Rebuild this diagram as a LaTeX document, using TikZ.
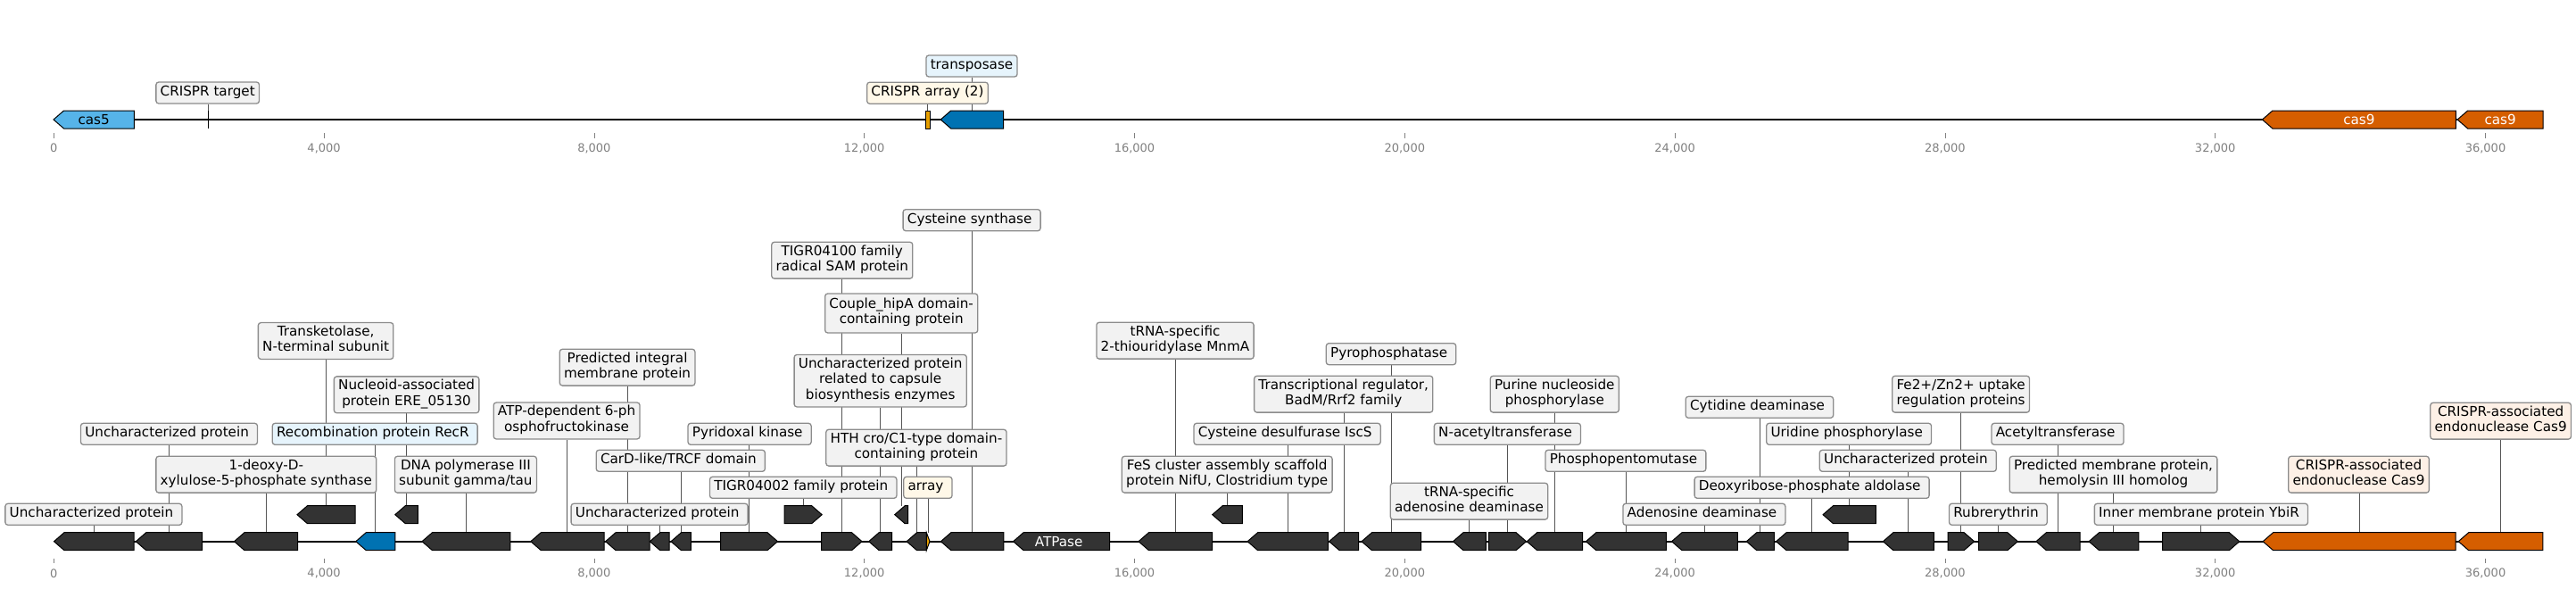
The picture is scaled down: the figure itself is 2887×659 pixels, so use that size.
\documentclass[tikz,border=0pt]{standalone}
\usepackage{fontspec}
\setmainfont{DejaVu Sans}
\usetikzlibrary{calc}
\pgfdeclarelayer{background}
\pgfsetlayers{background,main}
\definecolor{genedark}{HTML}{333333}
\definecolor{geneblue}{HTML}{0072B2}
\definecolor{genesky}{HTML}{56B4E9}
\definecolor{geneorange}{HTML}{D55E00}
\definecolor{arrayorange}{HTML}{E69F00}
\definecolor{boxfill}{HTML}{F2F2F2}
\definecolor{boxedge}{HTML}{8C8C8C}
\definecolor{bluefill}{HTML}{E6F4FC}
\definecolor{creamfill}{HTML}{FFF8E8}
\definecolor{peachfill}{HTML}{FDF0E6}
\definecolor{conncol}{HTML}{555555}
\definecolor{tickgray}{HTML}{808080}
\newcommand\tsp{\kern4.8pt}
\newcommand\geneL[5]{%
  \draw[gene,fill=#5] (#2,#4) -- ({#2+min(11.5,#3-#2)},{#4-10}) -- (#3,{#4-10}) -- (#3,{#4+10}) -- ({#2+min(11.5,#3-#2)},{#4+10}) -- cycle;
  \coordinate (#1) at ({(#2+#3)/2},{#4-10});
  \coordinate (#1c) at ({(#2+#3)/2},#4);}
\newcommand\geneR[5]{%
  \draw[gene,fill=#5] (#2,{#4-10}) -- ({#3-min(11.5,#3-#2)},{#4-10}) -- (#3,#4) -- ({#3-min(11.5,#3-#2)},{#4+10}) -- (#2,{#4+10}) -- cycle;
  \coordinate (#1) at ({(#2+#3)/2},{#4-10});
  \coordinate (#1c) at ({(#2+#3)/2},#4);}
\tikzset{
  gene/.style={draw=black, line width=1pt, line join=miter},
  lbl/.style={draw=boxedge, fill=boxfill, rounded corners=3pt, line width=1.3pt,
    inner xsep=4.8pt, inner ysep=3.2pt, align=center,
    font=\fontsize{15.2}{17.6}\selectfont,
    execute at begin node=\strut, execute at end node=\strut},
  bluebox/.style={lbl, fill=bluefill},
  creambox/.style={lbl, fill=creamfill},
  peachbox/.style={lbl, fill=peachfill},
  conn/.style={draw=conncol, line width=1pt},
  mainline/.style={draw=black, line width=2pt},
  tickline/.style={draw=tickgray, line width=0.8pt},
  ticklabel/.style={text=tickgray, font=\fontsize{13}{15}\selectfont, inner sep=0pt},
  genetext/.style={font=\fontsize{15.2}{17.6}\selectfont, inner sep=0pt},
}
\begin{document}
\begin{tikzpicture}[x=1pt,y=-1pt]
\useasboundingbox (0,0) rectangle (2887,659);

% ---------------- top track ----------------
\geneL{tcas5}{60}{150.3}{134}{genesky}
\node[genetext] (lcas5) at (tcas5c) {cas5};
\draw[line width=1.6pt] (233.3,124) -- (233.3,144.3);
\coordinate (ttgt) at (233.3,124);
\draw[gene,fill=arrayorange] (1037.3,124) rectangle (1042.3,144.3);
\coordinate (tarr) at (1039.8,124);
\geneL{ttrn}{1054.2}{1124.5}{134}{geneblue}
\geneL{tcasA}{2535.4}{2752.3}{134}{geneorange}
\geneL{tcasB}{2754.1}{2850.1}{134}{geneorange}
\node[genetext,text=white] (lcasA) at (tcasAc) {cas9};
\node[genetext,text=white] (lcasB) at (tcasBc) {cas9};

\node[lbl] (t1) at (232.7,104) {CRISPR target};
\node[creambox] (t2) at (1039.5,104.2) {CRISPR array (2)};
\node[bluebox] (t3) at (1089,74) {transposase};

\foreach \b/\t [count=\i] in {0/0,4/{4,000},8/{8,000},12/{12,000},16/{16,000},20/{20,000},24/{24,000},28/{28,000},32/{32,000},36/{36,000}}{
  \draw[tickline] ({60.3+75.7*\b},149.3) -- ({60.3+75.7*\b},154.5);
  \node[ticklabel] (tt\i) at ({60.3+75.7*\b},166) {\t};
  \draw[tickline] ({60.3+75.7*\b},625.7) -- ({60.3+75.7*\b},630.5);
  \node[ticklabel] (bt\i) at ({60.3+75.7*\b},642.3) {\t};
}

% ---------------- bottom track ----------------
\geneL{g1}{60.5}{150}{606.7}{genedark}
\geneL{g2}{152.3}{226.6}{606.7}{genedark}
\geneL{g3}{262.5}{333.7}{606.7}{genedark}
\geneL{g4}{333}{398}{576.7}{genedark}
\geneL{g5}{398.8}{442.8}{606.7}{geneblue}
\geneL{g6}{442.8}{468.4}{576.7}{genedark}
\geneL{g7}{473}{571.8}{606.7}{genedark}
\geneL{g8}{594.8}{677}{606.7}{genedark}
\geneL{g9}{678.6}{728}{606.7}{genedark}
\geneL{g10}{728.3}{750.2}{606.7}{genedark}
\geneL{g11}{752}{774.3}{606.7}{genedark}
\geneR{g12}{807.6}{871.5}{606.7}{genedark}
\geneR{g13}{879.1}{921.2}{576.7}{genedark}
\geneR{g14}{920.5}{966}{606.7}{genedark}
\geneL{g15}{973.7}{999.7}{606.7}{genedark}
\geneL{g16}{1002.7}{1017.7}{576.7}{genedark}
\geneL{g17}{1016.1}{1038.3}{606.7}{genedark}
\geneR{g18}{1038.3}{1042}{606.7}{arrayorange}
\geneL{g19}{1054.4}{1124.8}{606.7}{genedark}
\geneL{gatp}{1135.6}{1243.5}{606.7}{genedark}
\node[genetext,text=white] (latp) at ($(gatpc)+(-3,0)$) {ATPase};
\geneL{g20}{1276}{1358.7}{606.7}{genedark}
\geneL{g21}{1358.7}{1392.4}{576.7}{genedark}
\geneL{g22}{1398.1}{1488.4}{606.7}{genedark}
\geneL{g23}{1489.6}{1522.5}{606.7}{genedark}
\geneL{g24}{1526}{1592.5}{606.7}{genedark}
\geneL{g25}{1628.5}{1665.3}{606.7}{genedark}
\geneR{g26}{1668.5}{1710.5}{606.7}{genedark}
\geneL{g27}{1711.2}{1773.6}{606.7}{genedark}
\geneL{g28}{1777.4}{1867.4}{606.7}{genedark}
\geneL{g29}{1873.5}{1947.4}{606.7}{genedark}
\geneL{g30}{1957.3}{1988.3}{606.7}{genedark}
\geneL{g31}{1990.6}{2071}{606.7}{genedark}
\geneL{g32}{2043}{2102.4}{576.7}{genedark}
\geneL{g33}{2110.4}{2167.4}{606.7}{genedark}
\geneR{g34}{2183.1}{2212.6}{606.7}{genedark}
\geneR{g35}{2217.5}{2261.3}{606.7}{genedark}
\geneL{g36}{2281.9}{2331}{606.7}{genedark}
\geneL{g37}{2341.1}{2396.8}{606.7}{genedark}
\geneR{g38}{2423.5}{2509.8}{606.7}{genedark}
\geneL{g39}{2536.1}{2752.1}{606.7}{geneorange}
\geneL{g40}{2755.2}{2849.9}{606.7}{geneorange}

\node[lbl] (b1) at (104.9,576.3) {Uncharacterized protein\tsp};
\node[lbl] (b2) at (189.5,486.3) {Uncharacterized protein\tsp};
\node[lbl] (b3) at (298.3,531.7) {1-deoxy-D-\\xylulose-5-phosphate synthase};
\node[lbl] (b4) at (365.1,382) {Transketolase,\\N-terminal subunit};
\node[bluebox] (b5) at (420.2,486.3) {Recombination protein RecR\tsp};
\node[lbl] (b6) at (455.6,442.3) {Nucleoid-associated\\protein ERE\_05130};
\node[lbl] (b7) at (521.9,531.7) {DNA polymerase III\\subunit gamma/tau};
\node[lbl] (b8) at (635.1,471.5) {ATP-dependent 6-ph\\osphofructokinase};
\node[lbl] (b9) at (703.1,411.7) {Predicted integral\\membrane protein};
\node[lbl] (b10) at (739.1,576.3) {Uncharacterized protein\tsp};
\node[lbl] (b11) at (762.8,516.3) {CarD-like/TRCF domain\tsp};
\node[lbl] (b12) at (840.1,486.3) {Pyridoxal kinase\tsp};
\node[lbl] (b13) at (900.2,546.3) {TIGR04002 family protein\tsp};
\node[lbl] (b14) at (943.8,291.7) {TIGR04100 family\\radical SAM protein};
\node[lbl] (b15) at (986.7,426.7) {Uncharacterized protein\\related to capsule\\biosynthesis enzymes};
\node[lbl,minimum height=44pt] (b16) at (1010.2,351) {Couple\_hipA domain-\\containing protein};
\node[lbl] (b17) at (1026.9,501.7) {HTH cro/C1-type domain-\\containing protein};
\node[creambox] (b18) at (1039.9,546.3) {array\tsp};
\node[lbl] (b19) at (1089.1,246.7) {Cysteine synthase\tsp};
\node[lbl] (b20) at (1317,381.7) {tRNA-specific\\2-thiouridylase MnmA};
\node[lbl] (b21) at (1375.2,531.7) {FeS cluster assembly scaffold\\protein NifU, Clostridium type};
\node[lbl] (b22) at (1442.6,486.3) {Cysteine desulfurase IscS\tsp};
\node[lbl] (b23) at (1505.7,441.7) {Transcriptional regulator,\\BadM/Rrf2 family};
\node[lbl] (b24) at (1559,396.7) {Pyrophosphatase\tsp};
\node[lbl] (b25) at (1646.5,561.7) {tRNA-specific\\adenosine deaminase};
\node[lbl] (b26) at (1689.4,486.3) {N-acetyltransferase\tsp};
\node[lbl] (b27) at (1742.3,441.7) {Purine nucleoside\\phosphorylase};
\node[lbl] (b28) at (1821.9,516.3) {Phosphopentomutase\tsp};
\node[lbl] (b29) at (1909.9,576.3) {Adenosine deaminase\tsp};
\node[lbl] (b30) at (1971.9,456.3) {Cytidine deaminase\tsp};
\node[lbl] (b31) at (2030.6,546.3) {Deoxyribose-phosphate aldolase\tsp};
\node[lbl] (b32) at (2072.1,486.3) {Uridine phosphorylase\tsp};
\node[lbl] (b33) at (2138.3,516.3) {Uncharacterized protein\tsp};
\node[lbl] (b34) at (2197.6,441.7) {Fe2+/Zn2+ uptake\\regulation proteins};
\node[lbl] (b35) at (2239.4,576.3) {Rubrerythrin\tsp};
\node[lbl] (b36) at (2306,486.3) {Acetyltransferase\tsp};
\node[lbl] (b37) at (2368.5,531.7) {Predicted membrane protein,\\hemolysin III homolog};
\node[lbl] (b38) at (2466.9,576.3) {Inner membrane protein YbiR\tsp};
\node[peachbox] (b39) at (2643.5,531.7) {CRISPR-associated\\endonuclease Cas9};
\node[peachbox] (b40) at (2802.6,471.7) {CRISPR-associated\\endonuclease Cas9};

\begin{pgfonlayer}{background}
  \draw[mainline] (tcas5c) -- (tcasBc);
  \draw[mainline] (g1c) -- (g40c);
  \foreach \g/\b in {ttgt/t1,tarr/t2,ttrn/t3}
    \draw[conn] (\g) -- (\g |- \b.south);
  \foreach \i in {1,...,40}
    \draw[conn] (g\i) -- (g\i |- b\i.south);
\end{pgfonlayer}
\end{tikzpicture}
\end{document}
